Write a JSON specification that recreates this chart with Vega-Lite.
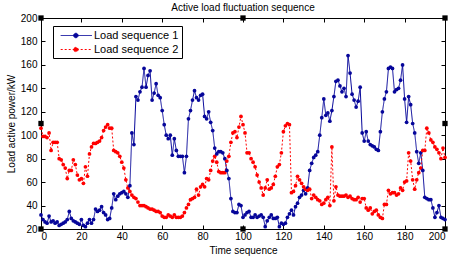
{
  "$schema": "https://vega.github.io/schema/vega-lite/v6.json",
  "width": 404,
  "height": 211,
  "autosize": {"type": "none"},
  "padding": {"left": 41, "top": 18, "right": 12, "bottom": 30},
  "title": {"text": "Active load fluctuation sequence", "fontSize": 10, "font": "Liberation Sans", "fontWeight": "normal", "color": "black", "offset": 0},
  "config": {
    "view": {"stroke": "black", "strokeWidth": 1},
    "font": "Liberation Sans",
    "axis": {"grid": false, "domainColor": "black", "tickColor": "black", "labelColor": "black", "titleColor": "black", "labelFontSize": 10, "titleFontSize": 10, "titleFontWeight": "normal", "tickSize": -4, "labelPadding": 8, "labelFont": "Liberation Sans", "titleFont": "Liberation Sans"}
  },
  "datasets": {
    "loads": [
      {"t":0,"a":32,"b":106},{"t":1,"a":28,"b":99},{"t":2,"a":26,"b":99},{"t":3,"a":25,"b":98},{"t":4,"a":31,"b":102},{"t":5,"a":26,"b":87},{"t":6,"a":27,"b":94},{"t":7,"a":25,"b":94},{"t":8,"a":26,"b":94},{"t":9,"a":23,"b":80},
      {"t":10,"a":24,"b":79},{"t":11,"a":25,"b":75},{"t":12,"a":26,"b":72},{"t":13,"a":28,"b":63},{"t":14,"a":35,"b":70},{"t":15,"a":29,"b":70},{"t":16,"a":27,"b":79},{"t":17,"a":26,"b":75},{"t":18,"a":25,"b":66},{"t":19,"a":24,"b":62},
      {"t":20,"a":28,"b":63},{"t":21,"a":23,"b":59},{"t":22,"a":22,"b":73},{"t":23,"a":25,"b":65},{"t":24,"a":28,"b":84},{"t":25,"a":25,"b":90},{"t":26,"a":28,"b":93},{"t":27,"a":37,"b":93},{"t":28,"a":35,"b":94},{"t":29,"a":36,"b":95},
      {"t":30,"a":39,"b":98},{"t":31,"a":34,"b":104},{"t":32,"a":32,"b":107},{"t":33,"a":28,"b":109},{"t":34,"a":29,"b":106},{"t":35,"a":38,"b":106},{"t":36,"a":50,"b":87},{"t":37,"a":45,"b":86},{"t":38,"a":48,"b":85},{"t":39,"a":50,"b":82},
      {"t":40,"a":51,"b":77},{"t":41,"a":52,"b":72},{"t":42,"a":50,"b":62},{"t":43,"a":47,"b":55},{"t":44,"a":57,"b":52},{"t":45,"a":102,"b":49},{"t":46,"a":92,"b":47},{"t":47,"a":133,"b":46},{"t":48,"a":130,"b":43},{"t":49,"a":137,"b":40},
      {"t":50,"a":141,"b":40},{"t":51,"a":157,"b":40},{"t":52,"a":141,"b":39},{"t":53,"a":151,"b":38},{"t":54,"a":155,"b":37},{"t":55,"a":130,"b":37},{"t":56,"a":136,"b":36},{"t":57,"a":144,"b":35},{"t":58,"a":134,"b":35},{"t":59,"a":132,"b":34},
      {"t":60,"a":121,"b":31},{"t":61,"a":109,"b":30},{"t":62,"a":100,"b":30},{"t":63,"a":97,"b":32},{"t":64,"a":100,"b":31},{"t":65,"a":83,"b":30},{"t":66,"a":97,"b":32},{"t":67,"a":87,"b":30},{"t":68,"a":82,"b":30},{"t":69,"a":82,"b":30},
      {"t":70,"a":82,"b":31},{"t":71,"a":68,"b":34},{"t":72,"a":82,"b":38},{"t":73,"a":114,"b":41},{"t":74,"a":121,"b":45},{"t":75,"a":130,"b":46},{"t":76,"a":138,"b":47},{"t":77,"a":132,"b":54},{"t":78,"a":130,"b":49},{"t":79,"a":134,"b":56},
      {"t":80,"a":135,"b":58},{"t":81,"a":116,"b":56},{"t":82,"a":114,"b":63},{"t":83,"a":120,"b":62},{"t":84,"a":111,"b":70},{"t":85,"a":104,"b":78},{"t":86,"a":89,"b":82},{"t":87,"a":84,"b":77},{"t":88,"a":86,"b":69},{"t":89,"a":86,"b":68},
      {"t":90,"a":85,"b":68},{"t":91,"a":80,"b":68},{"t":92,"a":70,"b":78},{"t":93,"a":63,"b":82},{"t":94,"a":46,"b":94},{"t":95,"a":35,"b":102},{"t":96,"a":34,"b":103},{"t":97,"a":34,"b":98},{"t":98,"a":41,"b":107},{"t":99,"a":40,"b":116},
      {"t":100,"a":30,"b":109},{"t":101,"a":32,"b":102},{"t":102,"a":34,"b":85},{"t":103,"a":35,"b":85},{"t":104,"a":30,"b":80},{"t":105,"a":30,"b":77},{"t":106,"a":32,"b":73},{"t":107,"a":30,"b":66},{"t":108,"a":31,"b":60},{"t":109,"a":32,"b":55},
      {"t":110,"a":30,"b":49},{"t":111,"a":22,"b":55},{"t":112,"a":27,"b":62},{"t":113,"a":30,"b":54},{"t":114,"a":32,"b":55},{"t":115,"a":29,"b":58},{"t":116,"a":29,"b":65},{"t":117,"a":30,"b":73},{"t":118,"a":22,"b":75},{"t":119,"a":25,"b":85},
      {"t":120,"a":24,"b":103},{"t":121,"a":25,"b":108},{"t":122,"a":30,"b":110},{"t":123,"a":33,"b":109},{"t":124,"a":36,"b":51},{"t":125,"a":32,"b":52},{"t":126,"a":39,"b":57},{"t":127,"a":42,"b":65},{"t":128,"a":47,"b":62},{"t":129,"a":49,"b":59},
      {"t":130,"a":53,"b":56},{"t":131,"a":50,"b":54},{"t":132,"a":55,"b":53},{"t":133,"a":70,"b":54},{"t":134,"a":76,"b":46},{"t":135,"a":81,"b":49},{"t":136,"a":83,"b":47},{"t":137,"a":86,"b":45},{"t":138,"a":100,"b":44},{"t":139,"a":115,"b":41},
      {"t":140,"a":131,"b":42},{"t":141,"a":117,"b":45},{"t":142,"a":119,"b":47},{"t":143,"a":112,"b":40},{"t":144,"a":121,"b":90},{"t":145,"a":133,"b":44},{"t":146,"a":146,"b":56},{"t":147,"a":147,"b":49},{"t":148,"a":142,"b":48},{"t":149,"a":137,"b":48},
      {"t":150,"a":140,"b":48},{"t":151,"a":133,"b":49},{"t":152,"a":168,"b":47},{"t":153,"a":153,"b":48},{"t":154,"a":135,"b":46},{"t":155,"a":130,"b":45},{"t":156,"a":124,"b":45},{"t":157,"a":129,"b":47},{"t":158,"a":141,"b":43},{"t":159,"a":102,"b":46},
      {"t":160,"a":95,"b":46},{"t":161,"a":103,"b":38},{"t":162,"a":95,"b":36},{"t":163,"a":92,"b":38},{"t":164,"a":91,"b":33},{"t":165,"a":90,"b":35},{"t":166,"a":88,"b":36},{"t":167,"a":87,"b":32},{"t":168,"a":103,"b":30},{"t":169,"a":120,"b":29},
      {"t":170,"a":131,"b":41},{"t":171,"a":137,"b":41},{"t":172,"a":157,"b":53},{"t":173,"a":158,"b":50},{"t":174,"a":157,"b":51},{"t":175,"a":137,"b":51},{"t":176,"a":139,"b":49},{"t":177,"a":140,"b":50},{"t":178,"a":147,"b":55},{"t":179,"a":160,"b":53},
      {"t":180,"a":131,"b":60},{"t":181,"a":111,"b":61},{"t":182,"a":133,"b":85},{"t":183,"a":126,"b":78},{"t":184,"a":110,"b":62},{"t":185,"a":102,"b":54},{"t":186,"a":86,"b":62},{"t":187,"a":76,"b":68},{"t":188,"a":85,"b":72},{"t":189,"a":70,"b":87},
      {"t":190,"a":47,"b":87},{"t":191,"a":46,"b":106},{"t":192,"a":45,"b":102},{"t":193,"a":45,"b":96},{"t":194,"a":38,"b":94},{"t":195,"a":30,"b":90},{"t":196,"a":34,"b":88},{"t":197,"a":40,"b":85},{"t":198,"a":30,"b":80},{"t":199,"a":29,"b":89},
      {"t":200,"a":28,"b":81}
    ],
    "handles": [
      {"x":0,"y":20},{"x":100,"y":20},{"x":200,"y":20},
      {"x":0,"y":200},{"x":100,"y":200},{"x":200,"y":200},
      {"x":0,"y":110},{"x":200,"y":110}
    ]
  },
  "layer": [
    {
      "data": {"name": "loads"},
      "transform": [{"fold": ["a", "b"], "as": ["s", "v"]}],
      "mark": {"type": "line", "strokeWidth": 1},
      "encoding": {
        "x": {"field": "t", "type": "quantitative", "scale": {"domain": [0, 200], "nice": false, "zero": false}, "axis": {"values": [0,20,40,60,80,100,120,140,160,180,200], "title": "Time sequence", "titlePadding": 4, "labelPadding": 6}},
        "y": {"field": "v", "type": "quantitative", "scale": {"domain": [20, 200], "nice": false, "zero": false}, "axis": {"values": [20,40,60,80,100,120,140,160,180,200], "title": "Load active power/kW", "titlePadding": 4}},
        "color": {"field": "s", "type": "nominal", "scale": {"domain": ["a", "b"], "range": ["#06069a", "#ff0000"]},
          "legend": {"orient": "none", "legendX": 12, "legendY": 8, "title": null, "strokeColor": "black", "fillColor": "white", "padding": 3, "rowPadding": 2, "labelFontSize": 11, "labelFont": "Liberation Sans", "labelColor": "black", "labelOffset": 25,
            "labelExpr": "datum.label == 'a' ? 'Load sequence 1' : 'Load sequence 2'",
            "symbolType": "M-0.3,0H4.9M2.6,0A0.37,0.37,0,1,1,1.86,0A0.37,0.37,0,1,1,2.6,0Z",
            "symbolSize": 144, "symbolStrokeWidth": 1,
            "encode": {"symbols": {"update": {"fill": {"scale": "color", "field": "value"}}}}}},
        "strokeDash": {"field": "s", "type": "nominal", "scale": {"domain": ["a", "b"], "range": [[1, 0], [2, 2]]}}
      }
    },
    {
      "data": {"name": "loads"},
      "transform": [{"fold": ["a", "b"], "as": ["s", "v"]}],
      "mark": {"type": "circle", "size": 14, "opacity": 1},
      "encoding": {
        "x": {"field": "t", "type": "quantitative", "axis": null},
        "y": {"field": "v", "type": "quantitative", "axis": null},
        "color": {"field": "s", "type": "nominal", "legend": null}
      }
    },
    {
      "data": {"name": "handles"},
      "mark": {"type": "square", "size": 28, "filled": true, "color": "black", "opacity": 1},
      "encoding": {
        "x": {"field": "x", "type": "quantitative", "axis": {"orient": "top", "values": [0,20,40,60,80,100,120,140,160,180,200], "labels": false, "title": null}},
        "y": {"field": "y", "type": "quantitative", "axis": {"orient": "right", "values": [20,40,60,80,100,120,140,160,180,200], "labels": false, "title": null}}
      }
    }
  ],
  "resolve": {"axis": {"x": "independent", "y": "independent"}}
}
